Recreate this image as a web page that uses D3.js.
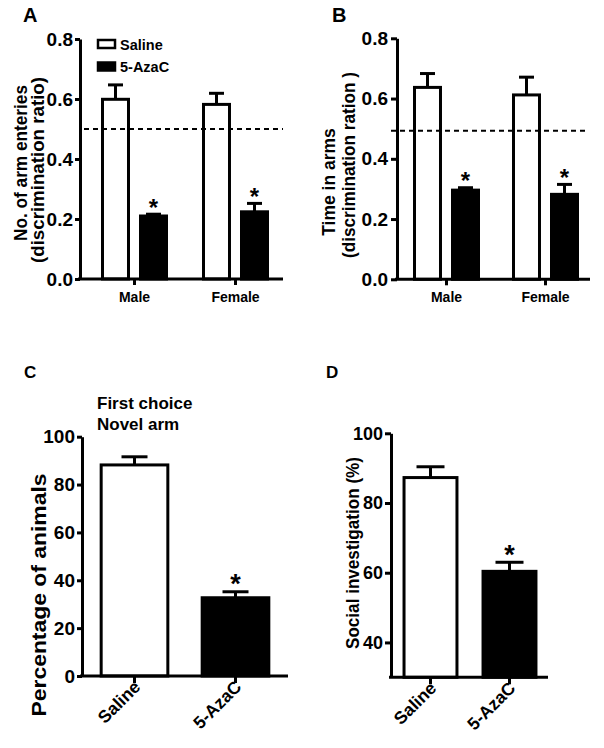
<!DOCTYPE html>
<html>
<head>
<meta charset="utf-8">
<script src="https://cdn.jsdelivr.net/npm/d3@7"></script>
<style>
body { margin: 0; background: #fff; }
text { font-family: "Liberation Sans", Arial, sans-serif; font-weight: bold; fill: #000; }
</style>
</head>
<body>
<script>
// data //
var sexes = ["Male", "Female"];
var treatments = ["Saline", "5-AzaC"];

// A: no. of arm entries (discrimination ratio)
var entriesSaline = [0.599, 0.582];
var entriesSalineSem = [0.048, 0.037];
var entriesAza = [0.210, 0.224];
var entriesAzaSem = [0.006, 0.028];

// B: time in arms (discrimination ratio)
var timeSaline = [0.637, 0.612];
var timeSalineSem = [0.046, 0.059];
var timeAza = [0.296, 0.282];
var timeAzaSem = [0.008, 0.033];

// C: first choice novel arm (% animals)
var choiceMean = [88.2, 32.7];
var choiceSem = [3.4, 2.5];

// D: social investigation (%)
var socialMean = [87.3, 60.4];
var socialSem = [3.1, 2.6];

var chanceA = 0.5;
var chanceB = 0.493;
var ratioTicks = [0, 0.2, 0.4, 0.6, 0.8];
var choiceTicks = [0, 20, 40, 60, 80, 100];
var socialTicks = [40, 60, 80, 100];

var svg = d3.select("body").append("svg")
            .attr("width", 604)
            .attr("height", 748);

var fillOf = function(t) { return t == "Saline" ? "#fff" : "#000"; };

var styleAxis = function(g, size)
                {
                  g.selectAll("path").attr("stroke", "#000").attr("stroke-width", 3);
                  g.selectAll("line").attr("stroke", "#000").attr("stroke-width", 3);
                  g.selectAll("text").style("font-size", size + "px").attr("fill", "#000");
                };

var yTitle = function(txt, x, y, size, len)
             {
               var t = svg.append("text")
                          .attr("transform", "translate(" + x + "," + y + ") rotate(-90)")
                          .attr("text-anchor", "middle")
                          .style("font-size", size + "px")
                          .text(txt);
               if (len) { t.attr("textLength", len).attr("lengthAdjust", "spacingAndGlyphs"); }
             };

var panelLabel = function(txt, x, y, size)
                 {
                   svg.append("text").attr("x", x).attr("y", y)
                      .style("font-size", size + "px").text(txt);
                 };

// grouped panels A and B //
var groupedPanel = function(opt)
{
  var x = d3.scaleBand().domain(sexes).range(opt.band);
  var inner = d3.scaleBand().domain(treatments).range([-32, 32]).paddingInner(0.316);
  var y = d3.scaleLinear().domain([0, 0.8]).range(opt.yRange);
  var g = svg.append("g");

  var rows = [];
  sexes.forEach(function(s, i)
  {
    rows.push({sex: s, trt: "Saline", m: opt.saline[i], e: opt.salineSem[i], star: false});
    rows.push({sex: s, trt: "5-AzaC", m: opt.aza[i], e: opt.azaSem[i], star: true});
  });
  var cx = function(d) { return x(d.sex) + x.bandwidth() / 2 + inner(d.trt) + inner.bandwidth() / 2; };

  g.selectAll("rect.bar")
   .data(rows)
   .enter()
   .append("rect")
   .attr("class", "bar")
   .attr("x", function(d) { return cx(d) - inner.bandwidth() / 2; })
   .attr("width", inner.bandwidth())
   .attr("y", function(d) { return y(d.m); })
   .attr("height", function(d) { return y(0) - y(d.m); })
   .attr("fill", function(d) { return fillOf(d.trt); })
   .attr("stroke", "#000")
   .attr("stroke-width", 3);

  // error bars, upper only
  g.selectAll("line.err")
   .data(rows)
   .enter()
   .append("line")
   .attr("x1", cx).attr("x2", cx)
   .attr("y1", function(d) { return y(d.m); })
   .attr("y2", function(d) { return y(d.m + d.e); })
   .attr("stroke", "#000").attr("stroke-width", 3);
  g.selectAll("line.cap")
   .data(rows)
   .enter()
   .append("line")
   .attr("x1", function(d) { return cx(d) - 7.5; })
   .attr("x2", function(d) { return cx(d) + 7.5; })
   .attr("y1", function(d) { return y(d.m + d.e); })
   .attr("y2", function(d) { return y(d.m + d.e); })
   .attr("stroke", "#000").attr("stroke-width", 3);

  g.selectAll("text.star")
   .data(rows.filter(function(d) { return d.star; }))
   .enter()
   .append("text")
   .attr("x", cx)
   .attr("y", function(d) { return y(d.m + d.e) + 1.6; })
   .attr("text-anchor", "middle")
   .style("font-size", "24px")
   .text("*");

  // chance line
  g.append("line")
   .attr("x1", opt.dash[0]).attr("x2", opt.dash[1])
   .attr("y1", y(opt.chance)).attr("y2", y(opt.chance))
   .attr("stroke", "#000").attr("stroke-width", 2)
   .attr("stroke-dasharray", "5,4");

  // x axis
  g.append("line")
   .attr("x1", opt.xLine[0]).attr("x2", opt.xLine[1])
   .attr("y1", y(0)).attr("y2", y(0))
   .attr("stroke", "#000").attr("stroke-width", 3);
  var xa = g.append("g")
            .attr("transform", "translate(0," + y(0) + ")")
            .call(d3.axisBottom(x).tickSize(6).tickSizeOuter(0).tickPadding(7));
  xa.select(".domain").remove();
  styleAxis(xa, 14);

  var ya = g.append("g")
            .attr("transform", "translate(" + opt.axisX + ",0)")
            .call(d3.axisLeft(y).tickValues(ratioTicks).tickFormat(d3.format(".1f"))
                    .tickSize(opt.tick).tickSizeOuter(0).tickPadding(opt.pad));
  styleAxis(ya, 19);
  return y;
};

var yA = groupedPanel({band: [84, 286], yRange: [279, 39], axisX: 80, xLine: [78, 283],
                       dash: [84, 283], chance: chanceA, tick: 5, pad: 2,
                       saline: entriesSaline, salineSem: entriesSalineSem,
                       aza: entriesAza, azaSem: entriesAzaSem});

groupedPanel({band: [397, 595], yRange: [279.3, 38.3], axisX: 397, xLine: [395, 590],
              dash: [391, 588], chance: chanceB, tick: 6, pad: 3,
              saline: timeSaline, salineSem: timeSalineSem,
              aza: timeAza, azaSem: timeAzaSem});

// legend in A
treatments.forEach(function(t, i)
{
  svg.append("rect")
     .attr("x", 98).attr("y", 40 + i * 22.5)
     .attr("width", 17).attr("height", 8)
     .attr("fill", fillOf(t)).attr("stroke", "#000").attr("stroke-width", 2.5);
  svg.append("text")
     .attr("x", 120).attr("y", 49.5 + i * 22.5)
     .style("font-size", "14.5px")
     .text(t);
});

// simple panels C and D //
var simplePanel = function(opt)
{
  var x = d3.scaleBand().domain(treatments).range(opt.band).paddingInner(opt.padIn).paddingOuter(opt.padIn / 2);
  var y = d3.scaleLinear().domain(opt.domain).range(opt.yRange);
  var g = svg.append("g");
  var rows = treatments.map(function(t, i) { return {trt: t, m: opt.mean[i], e: opt.sem[i]}; });
  var cx = function(d) { return x(d.trt) + x.bandwidth() / 2; };

  g.selectAll("rect")
   .data(rows)
   .enter()
   .append("rect")
   .attr("x", function(d) { return x(d.trt); })
   .attr("width", x.bandwidth())
   .attr("y", function(d) { return y(d.m); })
   .attr("height", function(d) { return y(opt.domain[0]) - y(d.m); })
   .attr("fill", function(d) { return fillOf(d.trt); })
   .attr("stroke", "#000")
   .attr("stroke-width", 3);

  g.selectAll("line.err")
   .data(rows)
   .enter()
   .append("line")
   .attr("x1", cx).attr("x2", cx)
   .attr("y1", function(d) { return y(d.m); })
   .attr("y2", function(d) { return y(d.m + d.e); })
   .attr("stroke", "#000").attr("stroke-width", 3);
  g.selectAll("line.cap")
   .data(rows)
   .enter()
   .append("line")
   .attr("x1", function(d) { return cx(d) - opt.cap / 2; })
   .attr("x2", function(d) { return cx(d) + opt.cap / 2; })
   .attr("y1", function(d) { return y(d.m + d.e); })
   .attr("y2", function(d) { return y(d.m + d.e); })
   .attr("stroke", "#000").attr("stroke-width", 3);

  g.append("text")
   .attr("x", cx(rows[1]))
   .attr("y", y(rows[1].m + rows[1].e) + 1.6)
   .attr("text-anchor", "middle")
   .style("font-size", "27px")
   .text("*");

  g.append("line")
   .attr("x1", opt.xLine[0]).attr("x2", opt.xLine[1])
   .attr("y1", y(opt.domain[0])).attr("y2", y(opt.domain[0]))
   .attr("stroke", "#000").attr("stroke-width", 3);

  var xa = g.append("g")
            .attr("transform", "translate(0," + y(opt.domain[0]) + ")")
            .call(d3.axisBottom(x).tickSize(7).tickSizeOuter(0));
  xa.select(".domain").remove();
  styleAxis(xa, 17.5);
  xa.selectAll("text")
    .attr("text-anchor", "end")
    .attr("dy", null)
    .attr("transform", "translate(7,12) rotate(-45)")
    .attr("y", 0);

  var ya = g.append("g")
            .attr("transform", "translate(" + opt.axisX + ",0)")
            .call(d3.axisLeft(y).tickValues(opt.ticks).tickSize(opt.tick).tickSizeOuter(0).tickPadding(2));
  styleAxis(ya, opt.tickFont);
};

simplePanel({band: [84, 286], padIn: 0.34, domain: [0, 100], yRange: [676, 436.7],
             axisX: 82, xLine: [80, 288], ticks: choiceTicks, tick: 5, tickFont: 19,
             cap: 26, mean: choiceMean, sem: choiceSem});

simplePanel({band: [391, 549], padIn: 0.33, domain: [30, 100], yRange: [677.3, 433.3],
             axisX: 391, xLine: [389, 548], ticks: socialTicks, tick: 6, tickFont: 18,
             cap: 28, mean: socialMean, sem: socialSem});

// titles and labels //
yTitle("No. of arm enteries", 27, 163, 17.5, 156);
yTitle("(discrimination ratio)", 44, 170, 17.5, 186);
yTitle("Time in arms", 335, 182, 17.5);
yTitle("(discrimination ration )", 355, 165, 17.5, 186);
yTitle("Percentage of animals", 46, 595, 19.5, 243);
yTitle("Social investigation (%)", 359, 553, 17.5, 192);

svg.append("text").attr("x", 97).attr("y", 409).style("font-size", "17px").text("First choice");
svg.append("text").attr("x", 97).attr("y", 430).style("font-size", "17px").text("Novel arm");

panelLabel("A", 23, 22, 20);
panelLabel("B", 332, 22, 20);
panelLabel("C", 24, 378, 17);
panelLabel("D", 326, 378, 17);
</script>
</body>
</html>
